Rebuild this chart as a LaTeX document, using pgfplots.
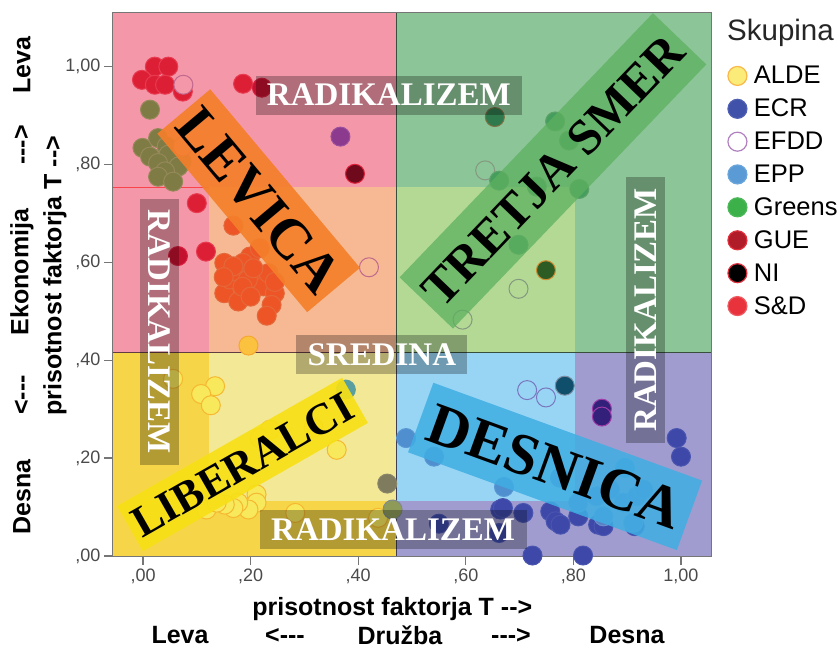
\documentclass[border=0pt]{standalone}
\usepackage{pgfplots}
\pgfplotsset{compat=1.18}
\usepackage{fontspec}
\setmainfont{Liberation Sans}
\newfontfamily\bandfont{Liberation Serif}[BoldFont={Liberation Serif Bold}]
% one picture pixel = 1pt
\definecolor{pinkbg}{HTML}{F497A8}
\definecolor{pinkmid}{HTML}{F6B993}
\definecolor{greenbg}{HTML}{8CC598}
\definecolor{greenmid}{HTML}{B3D995}
\definecolor{goldbg}{HTML}{F6D548}
\definecolor{goldmid}{HTML}{F3E896}
\definecolor{lavbg}{HTML}{A09CCF}
\definecolor{bluemid}{HTML}{98D5F5}
\definecolor{ticktext}{HTML}{4A4A4A}
\definecolor{axline}{HTML}{767676}
% marks as they look on their background
\definecolor{sdF}{HTML}{DC1F35}\definecolor{sdD}{HTML}{E83A50}
\definecolor{sdbF}{HTML}{C4112F}\definecolor{sdbD}{HTML}{D82040}
\definecolor{olF}{HTML}{7E7B45}\definecolor{olD}{HTML}{95895A}
\definecolor{puF}{HTML}{8B3A8E}\definecolor{puD}{HTML}{9A4FA0}
\definecolor{maF}{HTML}{6E0A1C}\definecolor{maD}{HTML}{E0203A}
\definecolor{orF}{HTML}{EE5526}\definecolor{orD}{HTML}{E4683A}
\definecolor{auF}{HTML}{FBC240}\definecolor{auD}{HTML}{F5A830}
\definecolor{opP}{HTML}{C0688E}\definecolor{opG}{HTML}{84997F}\definecolor{opB}{HTML}{7A76BE}
\definecolor{dgF}{HTML}{2F7A4C}\definecolor{dgD}{HTML}{7E6F45}
\definecolor{grF}{HTML}{459E5E}\definecolor{grD}{HTML}{5FA268}
\definecolor{dnF}{HTML}{2C5C23}\definecolor{dnD}{HTML}{D08A30}
\definecolor{alF}{HTML}{F8E85C}\definecolor{alD}{HTML}{F5B830}
\definecolor{gyF}{HTML}{7F7B5F}\definecolor{gyD}{HTML}{8A8668}
\definecolor{mxF}{HTML}{8E9A58}\definecolor{mxD}{HTML}{7E8A90}
\definecolor{teF}{HTML}{5A9EA0}
\definecolor{tdF}{HTML}{0F4F6B}\definecolor{tdD}{HTML}{7A8AA0}
\definecolor{inF}{HTML}{33207A}\definecolor{inD}{HTML}{A03CA8}
\definecolor{epF}{HTML}{4F8FD0}\definecolor{epD}{HTML}{5A98D4}
\definecolor{ecF}{HTML}{3D48A8}\definecolor{ecD}{HTML}{4A55B0}
\definecolor{e2F}{HTML}{5A7FC4}\definecolor{e2D}{HTML}{6A8FCC}
% legend colours
\definecolor{lALDE}{HTML}{FBEB78}\definecolor{lALDEd}{HTML}{F8B84A}
\definecolor{lECR}{HTML}{3F51A8}\definecolor{lECRd}{HTML}{4F60B4}
\definecolor{lEFDDd}{HTML}{B080C0}
\definecolor{lEPP}{HTML}{5B9BD5}\definecolor{lEPPd}{HTML}{6AA6DC}
\definecolor{lGRN}{HTML}{3CB14A}\definecolor{lGRNd}{HTML}{4CB85A}
\definecolor{lGUE}{HTML}{B01C28}\definecolor{lRED}{HTML}{E0303C}
\definecolor{lSD}{HTML}{E8323C}\definecolor{lSDd}{HTML}{EE5A60}
% bands
\definecolor{bLEV}{HTML}{F47F2A}\definecolor{bTRE}{HTML}{5DB05F}
\definecolor{bLIB}{HTML}{F7E016}\definecolor{bDES}{HTML}{3FAEE3}
\tikzset{
  band/.style n args={4}{fill=#1,fill opacity=#2,text opacity=1,text=black,
    minimum width=#3,minimum height=#4,inner sep=0pt,align=center,
    font=\bandfont\bfseries},
  rad/.style={fill=black,fill opacity=.27,text opacity=1,text=white,inner sep=0pt,
    minimum height=39pt,font=\bandfont\bfseries\fontsize{33}{33}\selectfont},
  sidetxt/.style={font=\bfseries\fontsize{25}{25}\selectfont,text=black,inner sep=0pt},
}
\pgfplotsset{
  pt/.style 2 args={only marks,forget plot,mark=*,mark size=9.5pt,
    mark options={solid,fill=#1,draw=#2,line width=1pt}},
  reg/.style={fill=#1,draw=none,forget plot},
  quad/.style={draw=#1,line width=1pt,forget plot},
  lg/.style 2 args={only marks,mark=*,mark size=9.5pt,
    mark options={solid,fill=#1,draw=#2,line width=1.2pt}},
}
\begin{document}
\begin{tikzpicture}[x=1pt,y=1pt]
\path[use as bounding box] (-113pt,-90pt) rectangle (726pt,556pt);
\begin{axis}[
  at={(0pt,0pt)},anchor=south west,
  scale only axis,width=598pt,height=543pt,
  xmin=-0.0558,xmax=1.0558,ymin=0,ymax=1.1096,
  clip mode=global,
  axis line style={axline,line width=1.3pt},
  xtick={0,.2,.4,.6,.8,1},ytick={0,.2,.4,.6,.8,1},
  xticklabels={{,00},{,20},{,40},{,60},{,80},{1,00}},
  yticklabels={{,00},{,20},{,40},{,60},{,80},{1,00}},
  xtick pos=bottom,ytick pos=left,tick align=outside,
  major tick length=9pt,
  tick style={axline,line width=1.3pt},
  tick label style={font=\fontsize{18}{18}\selectfont,text=ticktext},
  xlabel={\bfseries prisotnost faktorja T -{}->},
  ylabel={\bfseries prisotnost faktorja T -{}->},
  label style={font=\fontsize{25}{25}\selectfont},
  xlabel style={at={(axis description cs:0.467,0)},anchor=center,yshift=-53pt},
  ylabel style={at={(axis description cs:0,0.516)},anchor=center,yshift=58pt},
  legend style={at={(rel axis cs:1.028,.902)},anchor=north west,draw=none,fill=none,
    font=\fontsize{25.5}{25.5}\selectfont,row sep=13.7pt,inner sep=0pt,
    /tikz/every odd column/.append style={column sep=7pt},
    nodes={inner sep=0pt,anchor=west}},
  legend cell align=left,
]
% quadrants
\addplot[reg=pinkbg] coordinates {(-.0558,.4155)(.472,.4155)(.472,1.1096)(-.0558,1.1096)} --cycle;
\addplot[reg=greenbg] coordinates {(.472,.4155)(1.0558,.4155)(1.0558,1.1096)(.472,1.1096)} --cycle;
\addplot[reg=goldbg] coordinates {(-.0558,0)(.472,0)(.472,.4155)(-.0558,.4155)} --cycle;
\addplot[reg=lavbg] coordinates {(.472,0)(1.0558,0)(1.0558,.4155)(.472,.4155)} --cycle;
% middle parts, without radicalism
\addplot[reg=pinkmid] coordinates {(.1227,.4155)(.472,.4155)(.472,.754)(.1227,.754)} --cycle;
\addplot[reg=greenmid] coordinates {(.472,.4155)(.803,.4155)(.803,.754)(.472,.754)} --cycle;
\addplot[reg=goldmid] coordinates {(.1227,.113)(.472,.113)(.472,.4155)(.1227,.4155)} --cycle;
\addplot[reg=bluemid] coordinates {(.472,.113)(.803,.113)(.803,.4155)(.472,.4155)} --cycle;
\addplot[quad={red!55!pinkbg}] coordinates {(-.0558,.754)(.1227,.754)};
\addplot[quad={black!60!pinkbg}] coordinates {(-.0558,.4155)(.472,.4155)};
\addplot[quad={black!60!greenbg}] coordinates {(.472,.4155)(1.0558,.4155)};
\addplot[quad={black!60!greenbg}] coordinates {(.472,.4155)(.472,1.1096)};
\addplot[quad={black!60!lavbg}] coordinates {(.472,0)(.472,.4155)};

% S&D on pink
\addplot[pt={sdF}{sdD}] coordinates {(.022,1.000)(.047,1.000)(-.002,.973)(.022,.963)(.041,.963)(.074,.949)(.186,.965)(.100,.721)(.117,.622)};
\addplot[pt={sdbF}{sdbD}] coordinates {(.065,.613)(.221,.957)};
% GUE on pink
\addplot[pt={olF}{olD}] coordinates {(.013,.912)(-.001,.834)(.028,.854)(.044,.837)(.072,.806)(.013,.816)(.047,.820)(.028,.803)(.066,.796)(.041,.786)(.028,.775)(.056,.765)};
\addplot[pt={puF}{puD}] coordinates {(.367,.857)};
\addplot[pt={maF}{maD}] coordinates {(.394,.781)};
% S&D on the orange part
\addplot[pt={orF}{orD}] coordinates {(.168,.675)(.151,.599)(.151,.537)(.177,.520)(.162,.565)(.180,.578)(.199,.612)(.217,.629)(.205,.551)(.224,.571)(.224,.551)(.245,.537)(.239,.513)(.230,.491)(.233,.578)(.186,.599)(.168,.592)(.195,.565)(.205,.588)(.150,.570)(.185,.550)(.245,.560)(.200,.530)};
\addplot[pt={auF}{auD}] coordinates {(.196,.430)};
% EFDD, open circles
\addplot[pt={pinkbg}{opP}] coordinates {(.075,.963)(.074,.837)};
\addplot[pt={pinkmid}{opP}] coordinates {(.420,.590)};
\addplot[pt={greenbg}{opG}] coordinates {(.636,.788)};
\addplot[pt={greenmid}{opG}] coordinates {(.698,.546)(.594,.483)};
\addplot[pt={bluemid}{opB}] coordinates {(.714,.339)(.749,.324)};
% Greens
\addplot[pt={dgF}{dgD}] coordinates {(.654,.897)};
\addplot[pt={grF}{grD}] coordinates {(.766,.888)(.792,.849)(.662,.767)(.732,.755)(.811,.750)(.698,.636)};
\addplot[pt={dnF}{dnD}] coordinates {(.749,.584)};
% ALDE
\addplot[pt={alF}{alD}] coordinates {(.134,.347)(.108,.331)(.126,.308)(.360,.217)(.056,.362)(.236,.258)(.217,.241)(.317,.262)(.211,.126)(.211,.109)(.196,.095)(.177,.109)(.168,.098)(.152,.105)(.118,.095)(.137,.109)(.283,.088)(.437,.078)};
\addplot[pt={gyF}{gyD}] coordinates {(.454,.148)};
\addplot[pt={mxF}{mxD}] coordinates {(.464,.095)};
\addplot[pt={teF}{teF}] coordinates {(.377,.340)};
% NI, GUE on the right
\addplot[pt={tdF}{tdD}] coordinates {(.784,.348)};
\addplot[pt={inF}{inD}] coordinates {(.853,.301)(.853,.285)};
% EPP
\addplot[pt={epF}{epD}] coordinates {(.489,.241)(.541,.203)(.671,.141)(.896,.180)(.775,.160)};
% ECR
\addplot[pt={ecF}{ecD}] coordinates {(.992,.241)(1.000,.203)(.664,.095)(.669,.098)(.707,.088)(.550,.066)(.662,.047)(.757,.091)(.767,.071)(.776,.064)(.809,.081)(.846,.064)(.856,.061)(.724,.001)(.818,.001)(.914,.061)};
\addplot[pt={e2F}{e2D}] coordinates {(.809,.109)(.843,.122)(.893,.109)(.918,.122)(.930,.136)(.856,.081)(.911,.068)(.868,.136)};

% legend
\addlegendimage{lg={lALDE}{lALDEd}}\addlegendentry{ALDE}
\addlegendimage{lg={lECR}{lECRd}}\addlegendentry{ECR}
\addlegendimage{lg={white}{lEFDDd}}\addlegendentry{EFDD}
\addlegendimage{lg={lEPP}{lEPPd}}\addlegendentry{EPP}
\addlegendimage{lg={lGRN}{lGRNd}}\addlegendentry{Greens}
\addlegendimage{lg={lGUE}{lRED}}\addlegendentry{GUE}
\addlegendimage{lg={black}{lRED}}\addlegendentry{NI}
\addlegendimage{lg={lSD}{lSDd}}\addlegendentry{S\&D}
\end{axis}
% second axis on top: marks of the first are drawn last, the labels must cover them
\begin{axis}[
  at={(0pt,0pt)},anchor=south west,
  scale only axis,width=598pt,height=543pt,
  xmin=-0.0558,xmax=1.0558,ymin=0,ymax=1.1096,
  hide axis,clip=false,
]
\node[rad,minimum width=266pt] at (axis cs:.457,.942) {RADIKALIZEM};
\node[rad,minimum width=267pt] at (axis cs:.465,.054) {RADIKALIZEM};
\node[rad,minimum width=171pt] at (axis cs:.444,.411) {SREDINA};
\node[rad,minimum width=266pt,rotate=-90] at (axis cs:.031,.458) {RADIKALIZEM};
\node[rad,minimum width=266pt,rotate=90] at (axis cs:.934,.503) {RADIKALIZEM};
\node[band={bLEV}{.92}{233pt}{69pt},rotate=-50] at (axis cs:.215,.726) {\fontsize{57}{57}\selectfont LEVICA};
\node[band={bTRE}{.75}{366pt}{74pt},rotate=46.2] at (axis cs:.762,.787) {\fontsize{50}{50}\selectfont TRETJA SMER};
\node[band={bLIB}{.92}{259pt}{52pt},rotate=29.7] at (axis cs:.185,.187) {\fontsize{44}{44}\selectfont LIBERALCI};
\node[band={bDES}{.85}{286pt}{74pt},rotate=-20] at (axis cs:.766,.183) {\fontsize{59}{59}\selectfont DESNICA};
\end{axis}
% legend title and the side captions; y = 556 - pixel row
\node[anchor=west,inner sep=0pt,font=\fontsize{29.5}{29.5}\selectfont,text=black!85] at (614,523) {Skupina};
\node[sidetxt] at (67,-79.5) {Leva};
\node[sidetxt] at (172,-79.5) {<-{}-{}-};
\node[sidetxt] at (287,-79.5) {Družba};
\node[sidetxt] at (398,-79.5) {-{}-{}->};
\node[sidetxt] at (514,-79.5) {Desna};
\node[sidetxt,rotate=90] at (-91,491) {Leva};
\node[sidetxt,rotate=90] at (-91,411) {-{}-{}->};
\node[sidetxt,rotate=90] at (-91,284) {Ekonomija};
\node[sidetxt,rotate=90] at (-91,161) {<-{}-{}-};
\node[sidetxt,rotate=90] at (-91,59) {Desna};
\end{tikzpicture}
\end{document}
